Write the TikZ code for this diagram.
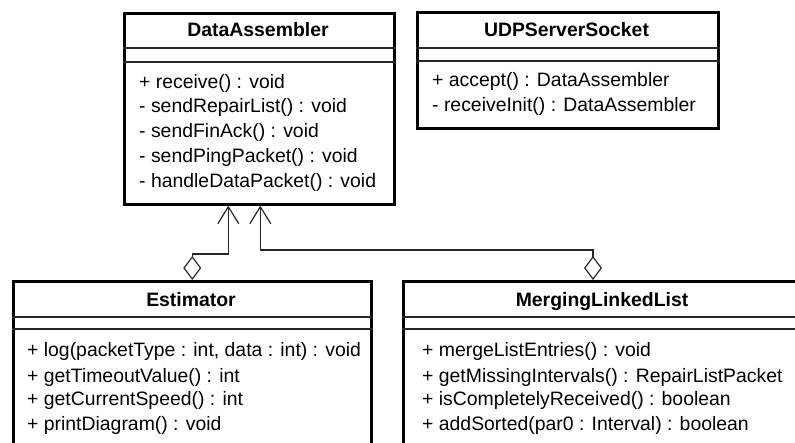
\documentclass[tikz,border=0pt]{standalone}
\usepackage{fontspec}
\setmainfont{Liberation Sans}
\usetikzlibrary{arrows.meta}
\begin{document}
\begin{tikzpicture}[x=1pt,y=-1pt,
  cls/.style={draw, line width=2.6pt, rectangle, inner sep=0pt, anchor=north west},
  sepline/.style={line width=1.2pt, draw=black!85},
  ttl/.style={font=\fontsize{19.4}{24}\selectfont\bfseries, anchor=base, inner sep=0pt},
  mth/.style={font=\fontsize{19.4}{24}\selectfont, anchor=base west, inner sep=0pt},
  conn/.style={line width=1.2pt, draw=black!85,
    {Diamond[open,length=24pt,width=18pt]}-{Straight Barb[length=17pt,width=21pt]}}
]
\useasboundingbox (0,0) rectangle (795,443);
\clip (0,0) rectangle (795,443);

% DataAssembler
\node[cls, minimum width=270pt, minimum height=191pt] (da) at (123,12) {};
\draw[sepline] (da.west |- 0,48) -- (da.east |- 0,48);
\draw[sepline] (da.west |- 0,62) -- (da.east |- 0,62);
\node[ttl] (dat) at (258,37) {DataAssembler};
\node[mth] (dam1) at (139,89) {+ receive() : void};
\node[mth] (dam2) at (139,113) {- sendRepairList() : void};
\node[mth] (dam3) at (139,138) {- sendFinAck() : void};
\node[mth] (dam4) at (139,163) {- sendPingPacket() : void};
\node[mth] (dam5) at (139,188) {- handleDataPacket() : void};

% UDPServerSocket
\node[cls, minimum width=301pt, minimum height=116pt] (udp) at (416,11) {};
\draw[sepline] (udp.west |- 0,48) -- (udp.east |- 0,48);
\draw[sepline] (udp.west |- 0,61) -- (udp.east |- 0,61);
\node[ttl] (udpt) at (566.5,37) {UDPServerSocket};
\node[mth] (udpm1) at (432,87) {+ accept() : DataAssembler};
\node[mth] (udpm2) at (432,112) {- receiveInit() : DataAssembler};

% Estimator
\node[cls, minimum width=358pt, minimum height=200pt] (est) at (12,280) {};
\draw[sepline] (est.west |- 0,317) -- (est.east |- 0,317);
\draw[sepline] (est.west |- 0,329) -- (est.east |- 0,329);
\node[ttl] (estt) at (191,307) {Estimator};
\node[mth] (estm1) at (27,357) {+ log(packetType : int, data : int) : void};
\node[mth] (estm2) at (27,382) {+ getTimeoutValue() : int};
\node[mth] (estm3) at (27,406) {+ getCurrentSpeed() : int};
\node[mth] (estm4) at (27,430) {+ printDiagram() : void};

% MergingLinkedList
\node[cls, minimum width=400pt, minimum height=200pt] (mll) at (402,280) {};
\draw[sepline] (mll.west |- 0,317) -- (mll.east |- 0,317);
\draw[sepline] (mll.west |- 0,329) -- (mll.east |- 0,329);
\node[ttl] (mllt) at (602,307) {MergingLinkedList};
\node[mth] (mllm1) at (422,357) {+ mergeListEntries() : void};
\node[mth] (mllm2) at (422,382) {+ getMissingIntervals() : RepairListPacket};
\node[mth] (mllm3) at (422,406) {+ isCompletelyReceived() : boolean};
\node[mth] (mllm4) at (422,430) {+ addSorted(par0 : Interval) : boolean};

% connectors
\coordinate (mlltop) at (mll.north west -| 593,0);
\draw[conn] (est.north) -- ++(0,-26) -| ([xshift=-31pt]da.south);
\draw[conn] (mlltop) -- ++(0,-30) -| ([xshift=1pt]da.south);
\end{tikzpicture}
\end{document}
